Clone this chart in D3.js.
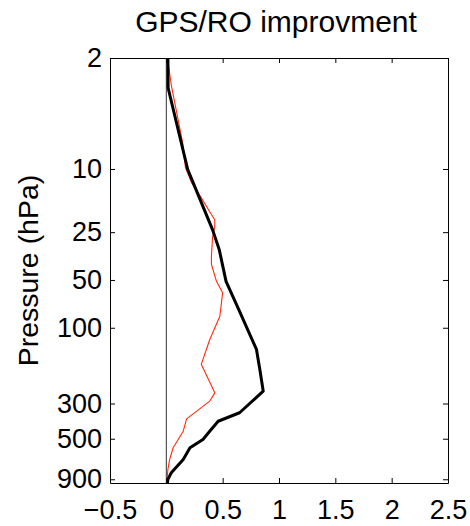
<!DOCTYPE html>
<html>
<head>
<meta charset="utf-8">
<script src="https://cdn.jsdelivr.net/npm/d3@7"></script>
<style>
  html, body { margin: 0; padding: 0; background: #fff; }
  svg { display: block; font-family: "Liberation Sans", Arial, Helvetica, sans-serif; }
</style>
</head>
<body>
<svg id="chart" width="470" height="526"></svg>
<script>
// ---- data ----
const title = "GPS/RO improvment";
const yLabel = "Pressure (hPa)";

const blackPressure = [2, 3.09, 10.1, 24.1, 32.3, 51, 78.8, 137, 183, 251, 343, 388, 448, 505, 570, 675, 819, 902, 950];
const blackValue    = [0.014, 0.016, 0.19, 0.41, 0.47, 0.53, 0.65, 0.80, 0.83, 0.86, 0.65, 0.46, 0.385, 0.325, 0.21, 0.15, 0.044, 0.014, 0.01];

const redPressure = [2, 2.96, 6.85, 9.84, 12.2, 15.6, 18.6, 20.9, 23.1, 27.1, 35.7, 39.8, 51, 60.1, 84.7, 119, 170, 257, 290, 335, 375, 448, 570, 675, 780, 950];
const redValue    = [0.01, 0.044, 0.145, 0.17, 0.225, 0.32, 0.385, 0.43, 0.43, 0.41, 0.40, 0.40, 0.445, 0.50, 0.475, 0.385, 0.31, 0.43, 0.385, 0.27, 0.18, 0.15, 0.06, 0.03, 0.014, 0.003];

const xTicks = [-0.5, 0, 0.5, 1, 1.5, 2, 2.5];
const xTickLabels = ["\u22120.5", "0", "0.5", "1", "1.5", "2", "2.5"];
const yTicks = [2, 10, 25, 50, 100, 300, 500, 900];
const yTickLabels = ["2", "10", "25", "50", "100", "300", "500", "900"];

// ---- layout ----
const W = 470, H = 526;
const m = { left: 110, right: 22, top: 58, bottom: 43 };
const iw = W - m.left - m.right, ih = H - m.top - m.bottom;

const svg = d3.select("#chart");
const g = svg.append("g").attr("transform", `translate(${m.left},${m.top})`);

const x = d3.scaleLinear().domain([-0.5, 2.5]).range([0, iw]);
const y = d3.scaleLog().domain([2, 950]).range([0, ih]);

const fs = 27;

// clip
svg.append("defs").append("clipPath").attr("id", "clip")
  .append("rect").attr("width", iw).attr("height", ih);

// zero line
g.append("line")
  .attr("x1", x(0)).attr("x2", x(0)).attr("y1", 0).attr("y2", ih)
  .attr("stroke", "#444").attr("stroke-width", 1.1);

const lineGen = (vals, pres) => d3.line()
  .x((d, i) => x(vals[i]))
  .y((d, i) => y(pres[i]))(pres);

const plot = g.append("g").attr("clip-path", "url(#clip)");
plot.append("path").attr("d", lineGen(redValue, redPressure))
  .attr("fill", "none").attr("stroke", "#ff2a10").attr("stroke-width", 1.1)
  .attr("stroke-linejoin", "round");
plot.append("path").attr("d", lineGen(blackValue, blackPressure))
  .attr("fill", "none").attr("stroke", "#000").attr("stroke-width", 3)
  .attr("stroke-linejoin", "round");

// axes
const xb = d3.axisBottom(x).tickValues(xTicks).tickFormat((d, i) => xTickLabels[i])
  .tickSizeInner(-5).tickSizeOuter(0).tickPadding(17);
const xt = d3.axisTop(x).tickValues(xTicks).tickFormat("")
  .tickSizeInner(-5).tickSizeOuter(0);
const yl = d3.axisLeft(y).tickValues(yTicks).tickFormat((d, i) => yTickLabels[i])
  .tickSizeInner(-5).tickSizeOuter(0).tickPadding(8);
const yr = d3.axisRight(y).tickValues(yTicks).tickFormat("")
  .tickSizeInner(-5).tickSizeOuter(0);

const styleAxis = sel => {
  sel.selectAll("path.domain").attr("stroke", "#000").attr("stroke-width", 1);
  sel.selectAll(".tick line").attr("stroke", "#000").attr("stroke-width", 1);
  sel.selectAll(".tick text").attr("fill", "#000").attr("font-size", fs)
    .attr("font-family", "'Liberation Sans', Arial, sans-serif");
};

g.append("g").attr("transform", `translate(0,${ih})`).call(xb).call(styleAxis);
g.append("g").call(xt).call(styleAxis);
g.append("g").call(yl).call(styleAxis);
g.append("g").attr("transform", `translate(${iw},0)`).call(yr).call(styleAxis);

// title
svg.append("text")
  .attr("x", 276).attr("y", 32)
  .attr("text-anchor", "middle").attr("font-size", 30).attr("fill", "#000")
  .text(title);

// y label
svg.append("text")
  .attr("transform", `translate(38,${m.top + ih / 2}) rotate(-90)`)
  .attr("text-anchor", "middle").attr("font-size", 28.5).attr("fill", "#000")
  .text(yLabel);
</script>
</body>
</html>
